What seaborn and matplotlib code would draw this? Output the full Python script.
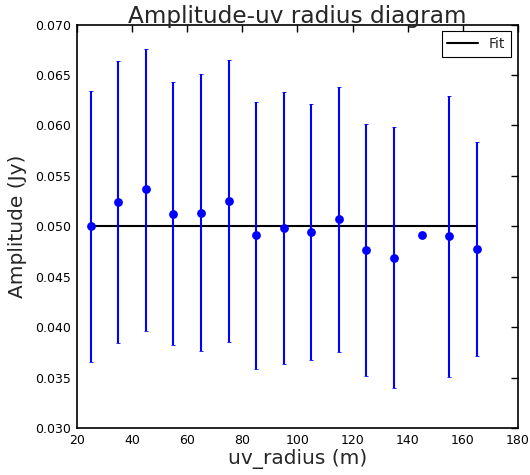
import matplotlib
matplotlib.use("Agg")
import matplotlib.pyplot as plt
import seaborn as sns
import numpy as np
import pandas as pd
from matplotlib.ticker import FormatStrFormatter, MultipleLocator

uv_radius = [25, 35, 45, 55, 65, 75, 85, 95, 105, 115, 125, 135, 145, 155, 165]
amplitude = [0.0500, 0.0524, 0.0537, 0.0512, 0.0513, 0.0525, 0.0491, 0.0498,
             0.0494, 0.0507, 0.0476, 0.0469, 0.0491, 0.0490, 0.0477]
err_top = [0.0634, 0.0664, 0.0676, 0.0643, 0.0651, 0.0665, 0.0623, 0.0633,
           0.0621, 0.0638, 0.0601, 0.0598, np.nan, 0.0629, 0.0584]
err_bottom = [0.0365, 0.0384, 0.0396, 0.0382, 0.0376, 0.0385, 0.0359, 0.0363,
              0.0367, 0.0375, 0.0352, 0.0340, np.nan, 0.0351, 0.0371]
fit_x = [25, 165]
fit_y = [0.05, 0.05]

sns.set_style("white")
plt.rcParams['font.family'] = ['DejaVu Sans']

df = pd.DataFrame({"uv": uv_radius, "amp": amplitude})
fit_df = pd.DataFrame({"uv": fit_x, "amp": fit_y})

fig = plt.figure(figsize=(5.3, 4.75), dpi=100)
ax = fig.add_axes([0.1453, 0.0989, 0.832, 0.8495])

lo = np.array(amplitude) - np.array(err_bottom)
hi = np.array(err_top) - np.array(amplitude)
ax.errorbar(uv_radius, amplitude, yerr=[lo, hi], fmt='none', ecolor='blue',
            elinewidth=1.5, capsize=1.2, capthick=0.6, zorder=2)
sns.scatterplot(data=df, x="uv", y="amp", color="blue", s=40, edgecolor="blue",
                linewidth=0, ax=ax, zorder=3)
sns.lineplot(data=fit_df, x="uv", y="amp", color="black", linewidth=1.5,
             label="Fit", ax=ax, zorder=1)

ax.set_xlim(20, 180)
ax.set_ylim(0.030, 0.070)
ax.xaxis.set_major_locator(MultipleLocator(20))
ax.yaxis.set_major_locator(MultipleLocator(0.005))
ax.yaxis.set_major_formatter(FormatStrFormatter('%.3f'))
ax.tick_params(direction='in', top=True, right=True, length=5, width=1,
               labelsize=9, colors='black', pad=4)
for s in ax.spines.values():
    s.set_color('black')
    s.set_linewidth(1.2)

ax.set_title("Amplitude-uv radius diagram", fontsize=16.7, pad=1)
ax.set_xlabel("uv_radius (m)", fontsize=14.5, labelpad=2)
ax.set_ylabel("Amplitude (Jy)", fontsize=14.5, labelpad=6)

leg = ax.legend(loc="upper right", fontsize=10, fancybox=False, framealpha=1,
                borderaxespad=0.5, handlelength=2.2)
leg.get_frame().set_edgecolor('black')
leg.get_frame().set_linewidth(0.8)

fig.savefig("out.png", dpi=100)
